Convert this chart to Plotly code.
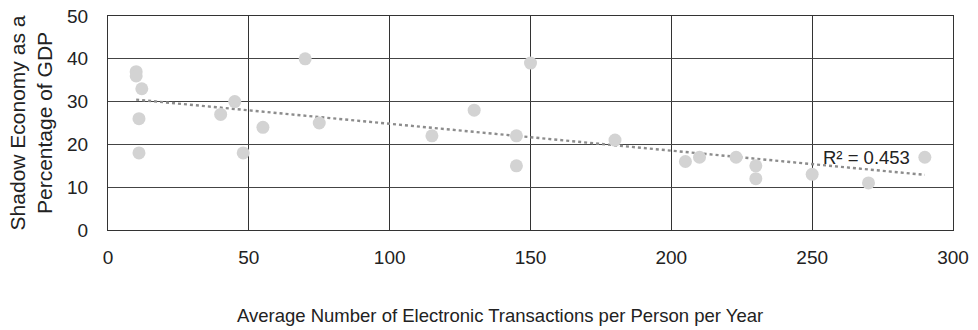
import numpy as np
import plotly.graph_objects as go

transactions = [10, 10, 12, 11, 11, 40, 45, 48, 55, 70, 75, 115, 130, 145, 145, 150, 180,
                205, 210, 223, 230, 230, 250, 270, 290]
shadow_pct = [37, 36, 33, 26, 18, 27, 30, 18, 24, 40, 25, 22, 28, 22, 15, 39, 21,
              16, 17, 17, 15, 12, 13, 11, 17]
r2_label = "R² = 0.453"
x_title = "Average Number of Electronic Transactions per Person per Year"
y_title = "Shadow Economy as a<br>Percentage of GDP"

x = np.array(transactions, dtype=float)
y = np.array(shadow_pct, dtype=float)
slope, intercept = np.polyfit(x, y, 1)
tx = np.linspace(x.min(), x.max(), 50)
ty = slope * tx + intercept

FAM = "Liberation Sans, Arial, sans-serif"
tickfont = dict(family=FAM, size=19, color="#222")
xtfont = dict(family=FAM, size=18.5, color="#222")
yfont = dict(family=FAM, size=21, color="#222")
r2font = dict(family=FAM, size=18.5, color="#222")

fig = go.Figure()
fig.add_trace(go.Scatter(x=tx, y=ty, mode="lines",
                         line=dict(color="#8c8c8c", width=2.4, dash="dot"),
                         hoverinfo="skip", showlegend=False))
fig.add_trace(go.Scatter(x=transactions, y=shadow_pct, mode="markers",
                         marker=dict(color="#d3d3d3", size=13),
                         showlegend=False))
fig.add_annotation(x=253, y=17, text=r2_label, showarrow=False, xanchor="left",
                   font=r2font)
# x-axis title (offset left of the plot centre, as in the original chart)
fig.add_annotation(xref="paper", yref="paper", x=0.464, y=-0.40,
                   xanchor="center", yanchor="middle", showarrow=False,
                   text=x_title, font=xtfont)

fig.update_layout(
    width=978, height=330,
    margin=dict(l=108, r=25, t=16, b=100),
    paper_bgcolor="white", plot_bgcolor="white",
    font=tickfont,
    xaxis=dict(range=[0, 300], tickvals=[0, 50, 100, 150, 200, 250, 300],
               showgrid=True, gridcolor="#333", gridwidth=1, zeroline=False,
               showline=True, linecolor="#333", mirror=True, linewidth=1,
               ticks="", ticklabelstandoff=10, automargin=False,
               tickfont=tickfont),
    yaxis=dict(range=[0, 50], tickvals=[0, 10, 20, 30, 40, 50],
               showgrid=True, gridcolor="#444", gridwidth=1, zeroline=False,
               showline=True, linecolor="#333", mirror=True, linewidth=1,
               ticks="", ticklabelstandoff=15, automargin=False,
               tickfont=tickfont,
               title=dict(text=y_title, standoff=8, font=yfont)),
)
fig.write_html("out.html", config={"displayModeBar": False},
               post_script="document.body.style.margin='0';")
